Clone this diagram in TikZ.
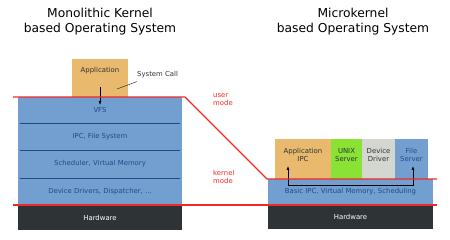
\documentclass[tikz,border=0pt]{standalone}
\usepackage{fontspec}
\setmainfont{DejaVu Sans}
\usetikzlibrary{arrows.meta,positioning}
\definecolor{skyblue}{HTML}{729FCF}
\definecolor{skynavy}{HTML}{204A87}
\definecolor{chocolate}{HTML}{E9B96E}
\definecolor{chameleon}{HTML}{8AE234}
\definecolor{aluminium}{HTML}{D3D7CF}
\definecolor{hwdark}{HTML}{2E3436}
\definecolor{scarlet}{HTML}{EF2929}

\tikzset{
    small/.style={font=\fontsize{6.9}{8.4}\selectfont, align=center, inner sep=0pt, text=hwdark},
    layer/.style={small, fill=skyblue, text=skynavy, minimum width=164pt},
    hwbox/.style={small, fill=hwdark, text=white, minimum width=165pt, minimum height=25pt},
    srvbox/.style={inner sep=0pt, minimum height=40pt},
    title/.style={font=\fontsize{12.3}{15}\selectfont, align=center},
    modeline/.style={scarlet, line width=1.3pt},
    divider/.style={skynavy, line width=0.7pt},
    callarrow/.style={line width=0.6pt, -{Latex[length=4pt,width=3pt]}}
}

\begin{document}
\begin{tikzpicture}[x=1pt,y=-1pt]
    \useasboundingbox (0,0) rectangle (450,240);

    % Titles
    \node[title] (monotitle) at (100,21.5) {Monolithic Kernel\\based Operating System};
    \node[title] (microtitle) at (353,21.5) {Microkernel\\based Operating System};

    % Monolithic kernel layers
    \node[layer, minimum height=26pt] (vfs) at (100,110) {VFS};
    \node[layer, minimum height=27pt] (ipc) at (100,136.5) {IPC, File System};
    \node[layer, minimum height=28pt] (sched) at (100,164) {Scheduler, Virtual Memory};
    \node[layer, minimum height=27pt] (drv) at (100,191.5) {Device Drivers, Dispatcher, ...};
    \node[hwbox, minimum width=164pt] (monohw) at (100,217.5) {Hardware};
    \foreach \n in {vfs,ipc,sched} {
        \draw[divider] ([xshift=2pt]\n.south west) -- ([xshift=-2pt]\n.south east);
    }

    % Application and system call
    \node[fill=chocolate, minimum width=56pt, minimum height=38pt, inner sep=0pt,
          label={[small, anchor=center, yshift=-12pt]north:Application}] (monoapp) at (100,78) {};
    \node[small, anchor=west] (syscall) at (137,75) {System Call};
    \coordinate (callpt) at (117,89);
    \draw[line width=0.5pt, hwdark] (callpt) -- ([yshift=-3pt]syscall.south west);
    \coordinate (callstart) at (100,87);
    \draw[callarrow] (callstart) -- ([yshift=5pt]vfs.center);

    % Microkernel servers
    \node[srvbox, fill=chocolate, minimum width=56pt,
          label={[small, align=center, yshift=4pt]center:Application\\IPC}] (appipc) at (303,159) {};
    \node[srvbox, fill=chameleon, minimum width=31pt,
          label={[small, align=center, yshift=4pt]center:UNIX\\Server}] (unixsrv) at (346.5,159) {};
    \node[srvbox, fill=aluminium, minimum width=33pt,
          label={[small, align=center, yshift=4pt]center:Device\\Driver}] (devdrv) at (378.5,159) {};
    \node[srvbox, fill=skyblue, minimum width=33pt,
          label={[small, text=skynavy, align=center, yshift=4pt]center:File\\Server}] (filesrv) at (411.5,159) {};

    % Microkernel layers
    \node[layer, minimum width=165pt, minimum height=26pt] (basic) at (350.5,192) {Basic IPC, Virtual Memory, Scheduling};
    \node[hwbox] (microhw) at (350.5,217) {Hardware};

    % IPC arrow
    \coordinate (ipcin) at (288,166);
    \coordinate (fsin) at (413,166);
    \draw[line width=0.6pt, {Latex[length=4pt,width=3pt]}-{Latex[length=4pt,width=3pt]}]
        (ipcin) -- ++(0,19) -| (fsin);

    % Mode boundaries
    \draw[modeline] (13,97) -- (185,97) -- (267,179) -- (437,179);
    \draw[modeline] (13,205) -- (437,205);
    \node[small, text=scarlet, align=left, anchor=north west] (usermode) at (213,93) {user\\mode};
    \node[small, text=scarlet, align=left, anchor=north west] (kernelmode) at (213,170) {kernel\\mode};

\end{tikzpicture}
\end{document}
